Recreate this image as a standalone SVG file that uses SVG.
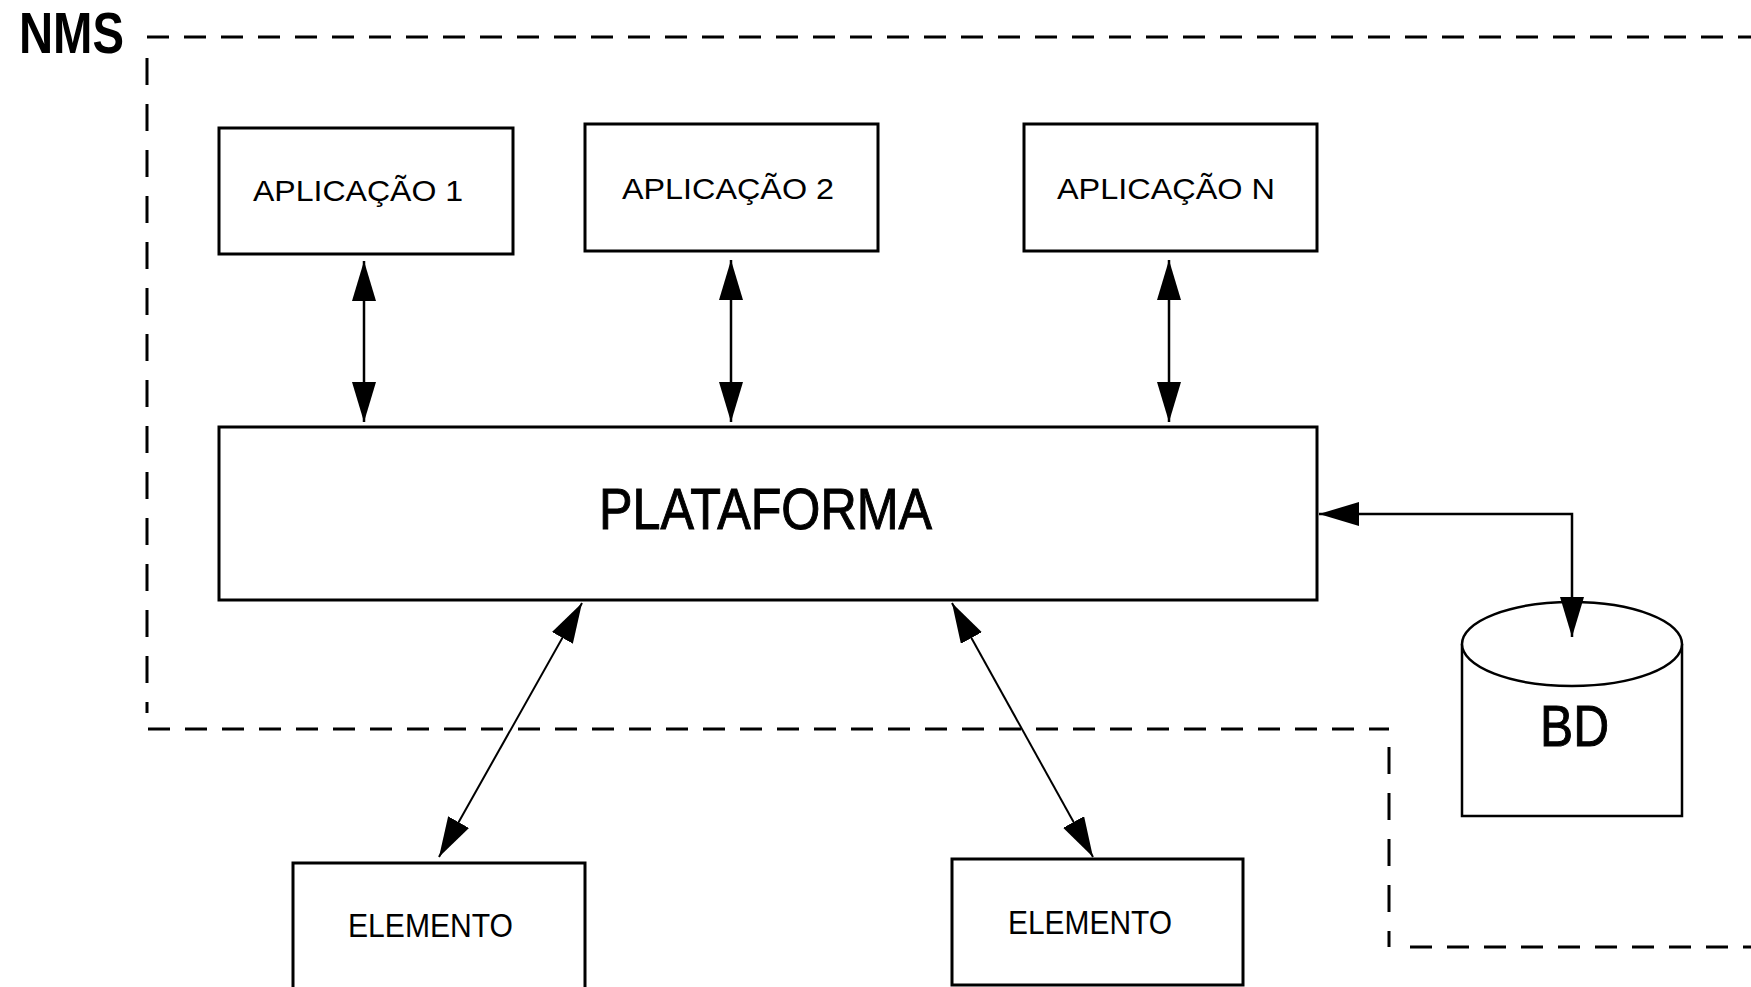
<svg xmlns="http://www.w3.org/2000/svg" width="1751" height="987" viewBox="0 0 1751 987">
<defs>
<style>
.box{fill:#fff;stroke:#000;stroke-width:3}
.cyl{fill:#fff;stroke:#000;stroke-width:2.5}
.dh{stroke:#000;stroke-width:3;stroke-dasharray:22 15;fill:none}
.dv{stroke:#000;stroke-width:3;stroke-dasharray:27 19;fill:none}
.t{font-family:"Liberation Sans",Arial,sans-serif;fill:#000}
.lbl{font-size:29px}
.big{font-size:58px;stroke:#000;stroke-width:1}
.conn{stroke:#000;stroke-width:2.5;fill:none;marker-start:url(#ah);marker-end:url(#ah)}
.diag{stroke:#000;stroke-width:2;fill:none;marker-start:url(#ah);marker-end:url(#ah)}
</style>
<marker id="ah" viewBox="0 0 40 24" markerWidth="40" markerHeight="24" refX="40" refY="12" orient="auto-start-reverse" markerUnits="userSpaceOnUse">
<path d="M0,0 L40,12 L0,24 z" fill="#000"/>
</marker>
</defs>
<rect width="1751" height="987" fill="#fff"/>
<g id="nms-boundary">
<line class="dh" x1="147" y1="37" x2="1751" y2="37"/>
<line class="dv" x1="147" y1="58" x2="147" y2="713"/>
<line class="dh" x1="148" y1="729" x2="1389" y2="729"/>
<line class="dv" x1="1389" y1="747" x2="1389" y2="947"/>
<line class="dh" x1="1410" y1="947" x2="1751" y2="947"/>
<text class="t" x="19" y="53" font-size="57" font-weight="bold" textLength="105" lengthAdjust="spacingAndGlyphs">NMS</text>
</g>
<g id="app1">
<rect class="box" x="219" y="128" width="294" height="126"/>
<text class="t lbl" x="253" y="201" textLength="210" lengthAdjust="spacingAndGlyphs">APLICAÇÃO 1</text>
</g>
<g id="app2">
<rect class="box" x="585" y="124" width="293" height="127"/>
<text class="t lbl" x="622" y="199" textLength="212" lengthAdjust="spacingAndGlyphs">APLICAÇÃO 2</text>
</g>
<g id="appN">
<rect class="box" x="1024" y="124" width="293" height="127"/>
<text class="t lbl" x="1057" y="199" textLength="218" lengthAdjust="spacingAndGlyphs">APLICAÇÃO N</text>
</g>
<g id="plataforma">
<rect class="box" x="219" y="427" width="1098" height="173"/>
<text class="t big" x="599" y="529" textLength="333" lengthAdjust="spacingAndGlyphs">PLATAFORMA</text>
</g>
<g id="bd">
<path class="cyl" d="M1462,644 V816 H1682 V644"/>
<ellipse class="cyl" cx="1572" cy="644" rx="110" ry="42"/>
<text class="t big" x="1540" y="746" font-size="60" textLength="69" lengthAdjust="spacingAndGlyphs">BD</text>
</g>
<g id="elemento1">
<path class="box" d="M293,1000 V863 H585 V1000"/>
<text class="t" x="348" y="937" font-size="33" textLength="165" lengthAdjust="spacingAndGlyphs">ELEMENTO</text>
</g>
<g id="elemento2">
<rect class="box" x="952" y="859" width="291" height="126"/>
<text class="t" x="1008" y="934" font-size="33" textLength="164" lengthAdjust="spacingAndGlyphs">ELEMENTO</text>
</g>
<g id="connectors">
<path class="conn" d="M364,261 V422"/>
<path class="conn" d="M731,260 V422"/>
<path class="conn" d="M1169,260 V422"/>
<path class="conn" d="M1319,514 H1572 V637"/>
<path class="diag" d="M582,603 L439,857"/>
<path class="diag" d="M952,603 L1093,857"/>
</g>
</svg>
